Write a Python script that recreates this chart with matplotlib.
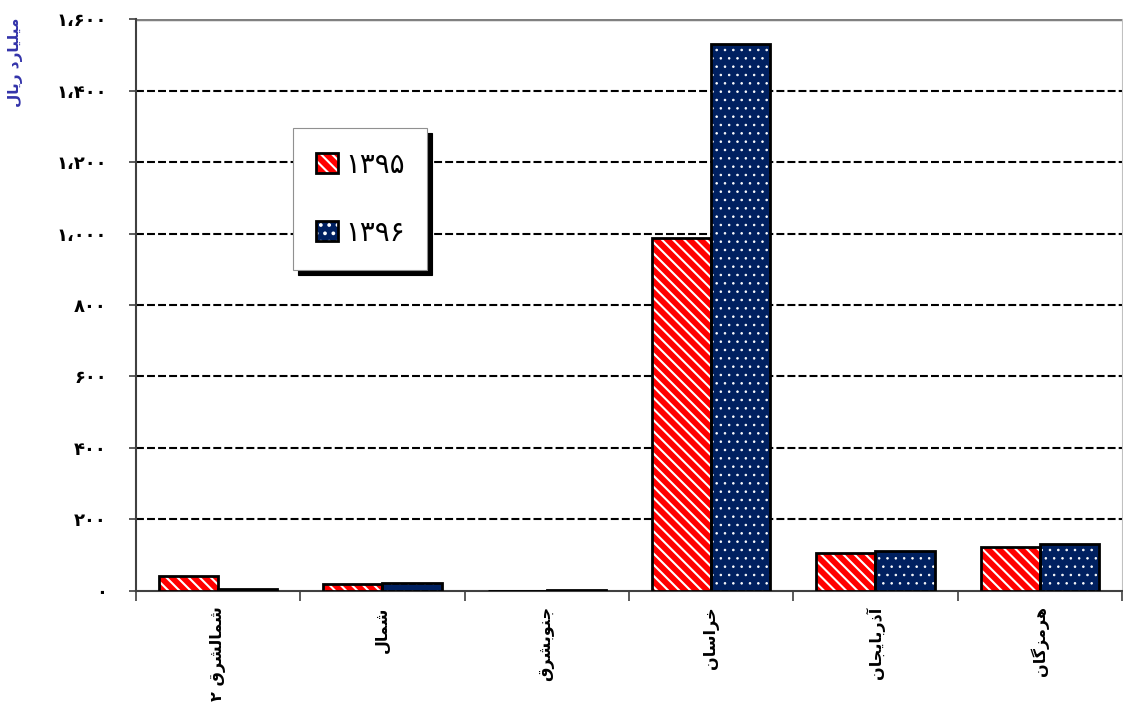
import numpy as np
import matplotlib
matplotlib.use('Agg')
import matplotlib.pyplot as plt
from matplotlib.patches import Patch

# data
regions = ['شمالشرق ۲', 'شمال', 'جنوبشرق', 'خراسان', 'آذربایجان', 'هرمزگان']
years = ['۱۳۹۵', '۱۳۹۶']
vals_1395 = [42, 18, 1, 987, 105, 122]
vals_1396 = [5, 22, 2, 1530, 111, 131]
yticks = [0, 200, 400, 600, 800, 1000, 1200, 1400, 1600]
ylabel = 'میلیارد ریال'

# --- minimal Arabic/Persian shaping, matplotlib has none ---
# letter: (isolated, final, initial, medial); None = does not join forward
FORMS = {
    'ا': ('\uFE8D', '\uFE8E', None, None),
    'آ': ('\uFE81', '\uFE82', None, None),
    'ب': ('\uFE8F', '\uFE90', '\uFE91', '\uFE92'),
    'ج': ('\uFE9D', '\uFE9E', '\uFE9F', '\uFEA0'),
    'خ': ('\uFEA5', '\uFEA6', '\uFEA7', '\uFEA8'),
    'د': ('\uFEA9', '\uFEAA', None, None),
    'ذ': ('\uFEAB', '\uFEAC', None, None),
    'ر': ('\uFEAD', '\uFEAE', None, None),
    'ز': ('\uFEAF', '\uFEB0', None, None),
    'س': ('\uFEB1', '\uFEB2', '\uFEB3', '\uFEB4'),
    'ش': ('\uFEB5', '\uFEB6', '\uFEB7', '\uFEB8'),
    'ق': ('\uFED5', '\uFED6', '\uFED7', '\uFED8'),
    'ل': ('\uFEDD', '\uFEDE', '\uFEDF', '\uFEE0'),
    'م': ('\uFEE1', '\uFEE2', '\uFEE3', '\uFEE4'),
    'ن': ('\uFEE5', '\uFEE6', '\uFEE7', '\uFEE8'),
    'ه': ('\uFEE9', '\uFEEA', '\uFEEB', '\uFEEC'),
    'و': ('\uFEED', '\uFEEE', None, None),
    'ی': ('\uFBFC', '\uFBFD', '\uFBFE', '\uFBFF'),
    'گ': ('\uFB92', '\uFB93', '\uFB94', '\uFB95'),
}


def shape_rtl(text):
    out = []
    for i, ch in enumerate(text):
        if ch not in FORMS:
            out.append(ch)
            continue
        prev = text[i - 1] if i > 0 else ''
        nxt = text[i + 1] if i + 1 < len(text) else ''
        join_prev = prev in FORMS and FORMS[prev][2] is not None
        join_next = nxt in FORMS and FORMS[ch][2] is not None
        f = FORMS[ch]
        if join_prev and join_next:
            out.append(f[3])
        elif join_prev:
            out.append(f[1])
        elif join_next:
            out.append(f[2])
        else:
            out.append(f[0])
    return ''.join(reversed(out))


def fa_num(v):
    s = f'{v:,}'.replace(',', '،')
    return s.translate(str.maketrans('0123456789', '۰۱۲۳۴۵۶۷۸۹'))


def hatch_lw(patches, lw):
    for p in patches:
        if hasattr(p, 'set_hatch_linewidth'):
            p.set_hatch_linewidth(lw)


plt.rcParams['font.family'] = ['DejaVu Sans']
plt.rcParams['hatch.linewidth'] = 1.5

fig = plt.figure(figsize=(11.23, 7.06), dpi=100)
ax = fig.add_axes([0.121, 0.163, 0.878, 0.810])

red = '#ff0000'
navy = '#002060'
x = np.arange(len(regions))
w = 0.36

# hatch layer first, then the black outline on top
b1 = ax.bar(x - w / 2, vals_1395, w, color=red, edgecolor='white', hatch='\\\\\\', lw=0, zorder=3)
ax.bar(x - w / 2, vals_1395, w, fill=False, edgecolor='black', lw=2, zorder=4)
b2 = ax.bar(x + w / 2, vals_1396, w, color=navy, edgecolor='white', hatch='..', lw=0, zorder=3)
ax.bar(x + w / 2, vals_1396, w, fill=False, edgecolor='black', lw=2, zorder=4)
hatch_lw(b1, 1.5)
hatch_lw(b2, 0.6)

ax.set_xlim(-0.5, len(regions) - 0.5)
ax.set_ylim(0, 1600)
ax.set_yticks(yticks)
ax.set_yticklabels([fa_num(v) for v in yticks], fontsize=13, fontweight='bold')
ax.tick_params(axis='y', length=5, width=1.2, pad=16, color='#404040')

ax.set_xticks(x)
ax.set_xticklabels([shape_rtl(r) for r in regions], rotation=90, fontsize=11.5,
                   fontweight='bold', va='top', ha='center')
ax.set_xticks(np.arange(len(regions) + 1) - 0.5, minor=True)
ax.tick_params(axis='x', which='major', length=0, pad=11)
ax.tick_params(axis='x', which='minor', length=7, width=1.2, color='#404040')

for v in yticks[1:-1]:
    ax.axhline(v, color='black', lw=1.5, ls=(0, (3.8, 1.5)), zorder=1)
ax.axhline(1600, color='#808080', lw=2.5, zorder=1)

ax.spines['left'].set_color('#404040')
ax.spines['left'].set_linewidth(1.5)
ax.spines['bottom'].set_color('#404040')
ax.spines['bottom'].set_linewidth(1.5)
ax.spines['top'].set_visible(False)
ax.spines['right'].set_color('#c0c0c0')

p1 = Patch(facecolor=red, edgecolor='white', hatch='\\\\\\', lw=0)
p2 = Patch(facecolor=navy, edgecolor='white', hatch='..', lw=0)
hatch_lw([p1], 1.5)
hatch_lw([p2], 0.6)
h1 = (p1, Patch(fill=False, edgecolor='black', lw=2))
h2 = (p2, Patch(fill=False, edgecolor='black', lw=2))
leg = ax.legend([h1, h2], years, loc='upper left', bbox_to_anchor=(0.2609, 0.8187),
                bbox_transform=fig.transFigure, fontsize=20, handlelength=0.8,
                handleheight=0.72, labelspacing=1.45, borderpad=0.82, handletextpad=0.25,
                borderaxespad=0, fancybox=False, framealpha=1, edgecolor='#909090',
                shadow={'color': 'black', 'alpha': 1, 'ox': 3.5, 'oy': -3.5})
leg.get_frame().set_linewidth(0.8)
leg.set_zorder(10)

fig.text(0.014, 0.975, shape_rtl(ylabel), rotation=90, va='top', ha='center',
         fontsize=11, fontweight='bold', color='#3333aa')

fig.savefig('out.png', dpi=100)
